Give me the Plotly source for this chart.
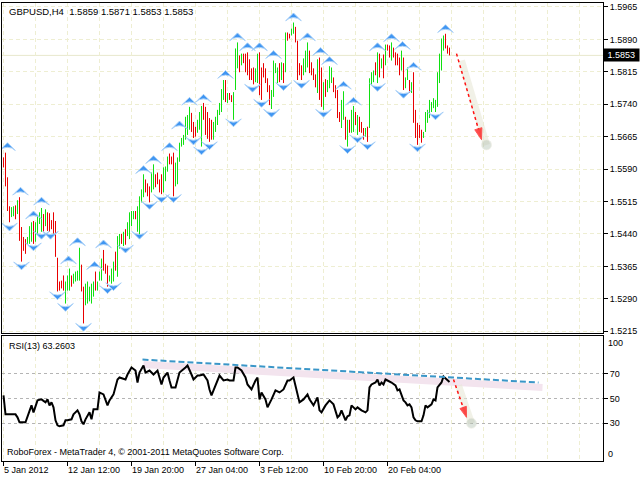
import plotly.graph_objects as go

# ---------------- data ----------------
bar_high = [
    1.5617, 1.5628, 1.5571, 1.5504, 1.5502, 1.5504, 1.5506, 1.5518, 1.5525, 1.5456,
    1.5433, 1.5428, 1.5433, 1.5458, 1.5467, 1.5470, 1.5467, 1.5481, 1.5490, 1.5500,
    1.5486, 1.5497, 1.5490, 1.5488, 1.5472, 1.5490, 1.5470, 1.5385, 1.5330, 1.5332,
    1.5344, 1.5330, 1.5344, 1.5360, 1.5344, 1.5348, 1.5353, 1.5355, 1.5408, 1.5369,
    1.5318, 1.5325, 1.5330, 1.5318, 1.5325, 1.5330, 1.5353, 1.5330, 1.5353, 1.5383,
    1.5403, 1.5371, 1.5367, 1.5344, 1.5360, 1.5376, 1.5399, 1.5435, 1.5440, 1.5440,
    1.5445, 1.5451, 1.5467, 1.5490, 1.5493, 1.5493, 1.5493, 1.5504, 1.5527, 1.5543,
    1.5578, 1.5566, 1.5557, 1.5550, 1.5582, 1.5601, 1.5578, 1.5582, 1.5566, 1.5578,
    1.5594, 1.5596, 1.5619, 1.5626, 1.5619, 1.5628, 1.5605, 1.5617, 1.5651, 1.5662,
    1.5669, 1.5711, 1.5715, 1.5734, 1.5720, 1.5699, 1.5688, 1.5704, 1.5722, 1.5736,
    1.5743, 1.5734, 1.5722, 1.5708, 1.5704, 1.5699, 1.5711, 1.5727, 1.5743, 1.5775,
    1.5796, 1.5796, 1.5766, 1.5766, 1.5761, 1.5768, 1.5869, 1.5883, 1.5853, 1.5857,
    1.5857, 1.5857, 1.5860, 1.5844, 1.5823, 1.5825, 1.5823, 1.5857, 1.5860, 1.5825,
    1.5835, 1.5823, 1.5800, 1.5784, 1.5773, 1.5841, 1.5835, 1.5825, 1.5835, 1.5837,
    1.5835, 1.5906, 1.5906, 1.5903, 1.5915, 1.5929, 1.5919, 1.5887, 1.5835, 1.5830,
    1.5846, 1.5864, 1.5883, 1.5864, 1.5837, 1.5823, 1.5809, 1.5844, 1.5848, 1.5825,
    1.5791, 1.5798, 1.5796, 1.5828, 1.5825, 1.5802, 1.5784, 1.5773, 1.5722, 1.5750,
    1.5770, 1.5711, 1.5704, 1.5704, 1.5727, 1.5736, 1.5722, 1.5715, 1.5711, 1.5699,
    1.5685, 1.5685, 1.5688, 1.5800, 1.5814, 1.5818, 1.5837, 1.5860, 1.5857, 1.5846,
    1.5855, 1.5878, 1.5878, 1.5876, 1.5883, 1.5871, 1.5860, 1.5857, 1.5848, 1.5864,
    1.5848, 1.5802, 1.5825, 1.5796, 1.5791, 1.5814, 1.5727, 1.5697, 1.5692, 1.5681,
    1.5676, 1.5722, 1.5727, 1.5750, 1.5745, 1.5754, 1.5750, 1.5814, 1.5857, 1.5892,
    1.5899, 1.5903, 1.5876, 1.5871,
]
bar_low = [
    1.5594, 1.5550, 1.5493, 1.5467, 1.5479, 1.5481, 1.5474, 1.5486, 1.5424, 1.5376,
    1.5401, 1.5394, 1.5417, 1.5417, 1.5422, 1.5417, 1.5422, 1.5440, 1.5463, 1.5445,
    1.5445, 1.5458, 1.5447, 1.5445, 1.5451, 1.5440, 1.5387, 1.5307, 1.5309, 1.5314,
    1.5309, 1.5279, 1.5309, 1.5309, 1.5318, 1.5325, 1.5330, 1.5332, 1.5332, 1.5307,
    1.5233, 1.5275, 1.5279, 1.5284, 1.5279, 1.5295, 1.5309, 1.5309, 1.5332, 1.5332,
    1.5355, 1.5348, 1.5318, 1.5330, 1.5325, 1.5330, 1.5355, 1.5341, 1.5406, 1.5417,
    1.5412, 1.5415, 1.5435, 1.5428, 1.5458, 1.5474, 1.5474, 1.5445, 1.5435, 1.5513,
    1.5525, 1.5536, 1.5527, 1.5513, 1.5536, 1.5543, 1.5548, 1.5555, 1.5536, 1.5532,
    1.5536, 1.5562, 1.5584, 1.5601, 1.5601, 1.5527, 1.5550, 1.5555, 1.5607, 1.5642,
    1.5646, 1.5658, 1.5669, 1.5681, 1.5676, 1.5662, 1.5665, 1.5674, 1.5681, 1.5642,
    1.5704, 1.5669, 1.5660, 1.5653, 1.5658, 1.5658, 1.5676, 1.5692, 1.5715, 1.5722,
    1.5750, 1.5745, 1.5743, 1.5750, 1.5745, 1.5704, 1.5773, 1.5823, 1.5814, 1.5830,
    1.5835, 1.5814, 1.5807, 1.5796, 1.5796, 1.5786, 1.5791, 1.5789, 1.5761, 1.5750,
    1.5802, 1.5789, 1.5768, 1.5738, 1.5729, 1.5757, 1.5812, 1.5789, 1.5791, 1.5796,
    1.5789, 1.5814, 1.5887, 1.5892, 1.5899, 1.5903, 1.5883, 1.5796, 1.5807, 1.5796,
    1.5807, 1.5814, 1.5825, 1.5812, 1.5807, 1.5796, 1.5779, 1.5766, 1.5750, 1.5734,
    1.5727, 1.5757, 1.5768, 1.5777, 1.5789, 1.5768, 1.5754, 1.5708, 1.5699, 1.5685,
    1.5704, 1.5658, 1.5642, 1.5674, 1.5674, 1.5676, 1.5692, 1.5669, 1.5676, 1.5674,
    1.5658, 1.5665, 1.5653, 1.5685, 1.5784, 1.5791, 1.5807, 1.5789, 1.5802, 1.5823,
    1.5800, 1.5830, 1.5864, 1.5848, 1.5841, 1.5848, 1.5830, 1.5830, 1.5807, 1.5818,
    1.5773, 1.5777, 1.5796, 1.5766, 1.5766, 1.5697, 1.5662, 1.5646, 1.5662, 1.5651,
    1.5662, 1.5676, 1.5697, 1.5708, 1.5722, 1.5731, 1.5722, 1.5734, 1.5789, 1.5818,
    1.5864, 1.5869, 1.5857, 1.5853,
]
# 1 = bullish (green) bar, 0 = bearish (red) bar
bar_up = [
    0, 0, 0, 0, 1, 1, 0, 1, 0, 0, 0, 0, 1, 1, 1, 0, 1, 1, 1, 1,
    0, 1, 0, 0, 0, 0, 0, 0, 0, 0, 0, 1, 1, 1, 0, 1, 1, 1, 1, 0,
    0, 1, 1, 1, 1, 1, 0, 1, 1, 1, 0, 0, 0, 1, 1, 1, 0, 1, 1, 0,
    1, 0, 1, 1, 1, 1, 0, 1, 1, 1, 1, 0, 0, 0, 1, 1, 0, 0, 0, 0,
    1, 1, 1, 0, 0, 0, 1, 1, 1, 1, 1, 1, 1, 1, 0, 0, 0, 1, 1, 1,
    0, 0, 0, 0, 0, 1, 1, 1, 1, 1, 1, 0, 1, 0, 0, 1, 1, 1, 0, 1,
    0, 0, 0, 0, 0, 0, 1, 1, 0, 0, 0, 0, 0, 0, 1, 1, 1, 1, 0, 1,
    0, 1, 0, 0, 1, 1, 0, 0, 0, 0, 1, 1, 1, 0, 0, 0, 0, 1, 0, 0,
    1, 0, 1, 1, 1, 0, 0, 0, 0, 1, 1, 0, 1, 0, 1, 1, 0, 1, 0, 0,
    0, 1, 0, 1, 1, 1, 0, 1, 0, 1, 0, 1, 0, 0, 1, 0, 0, 0, 0, 1,
    0, 1, 1, 0, 1, 0, 0, 0, 0, 0, 1, 1, 1, 1, 1, 1, 1, 1, 1, 1,
    1, 0, 0, 0,
]

# Fractal arrows (bar position, price)
frac_up_bar = [2, 8.5, 15, 19, 32.5, 37, 45.5, 50, 70, 75, 83, 88, 93, 100, 111,
               117, 122, 128, 135, 145, 152, 158.5, 163, 170, 175, 187, 194, 199.5, 205, 221]
frac_up_price = [1.5651, 1.5548, 1.5493, 1.5525, 1.5389, 1.5431, 1.5376, 1.5426, 1.5598, 1.5621,
                 1.5651, 1.5701, 1.5756, 1.5763, 1.5818, 1.5905, 1.5882, 1.5882, 1.5864, 1.5951,
                 1.5905, 1.5871, 1.5850, 1.5793, 1.5756, 1.5882, 1.5903, 1.5885, 1.5837, 1.5924]
frac_dn_bar = [3, 9, 15, 19, 23.5, 27, 31, 40, 52, 55, 61, 68, 73, 79, 85, 95,
               99, 103, 115, 124.5, 129, 134, 140, 149, 160, 172, 177, 182, 187, 200, 207, 216]
frac_dn_price = [1.5447, 1.5357, 1.5401, 1.5428, 1.5428, 1.5288, 1.5261, 1.5215, 1.5302, 1.5309,
                 1.5396, 1.5428, 1.5497, 1.5513, 1.5513, 1.5646, 1.5623, 1.5635, 1.5688, 1.5768,
                 1.5733, 1.5710, 1.5772, 1.5777, 1.5710, 1.5626, 1.5651, 1.5635, 1.5770, 1.5754,
                 1.5630, 1.5704]

# RSI(13) trace (bar position, value)
rsi_bar = [0, 1, 3, 6, 7, 8, 11, 12, 13, 14, 15, 16, 17, 19, 21, 22, 23, 24, 25, 26,
           27, 28, 30, 31, 32, 34, 35, 37, 38, 39, 40, 41, 42, 43, 44, 45, 47, 48, 50, 52,
           53, 55, 57, 58, 61, 62, 64, 66, 67, 68, 70, 71, 73, 75, 77, 78, 79, 80, 82, 83,
           84, 86, 87, 88, 91, 92, 94, 95, 97, 98, 100, 102, 103, 104, 105, 107, 108, 110, 112, 113,
           115, 116, 117, 119, 121, 122, 124, 126, 127, 128, 129, 131, 132, 134, 136, 138, 140, 142, 143, 145,
           147, 148, 150, 152, 153, 155, 157, 158, 159, 161, 163, 165, 167, 168, 169, 170, 171, 172, 173, 174,
           176, 177, 179, 181, 182, 183, 184, 186, 187, 188, 189, 190, 191, 192, 194, 196, 197, 198, 200, 201,
           202, 203, 204, 205, 206, 207, 209, 210, 211, 212, 214, 215, 216, 217, 219, 220, 221, 223]
rsi_value = [52.4, 37.2, 37.2, 37.2, 34.8, 30.8, 30.8, 34.8, 38.8, 44.4, 38.8, 44.4, 48.4, 49.2, 46.8, 49.2, 44.4, 46.8, 42.8, 32.4,
             28.4, 27.6, 28.4, 32.4, 32.4, 33.2, 37.2, 40.4, 37.2, 31.6, 29.2, 33.2, 36.4, 38.8, 33.2, 41.2, 41.2, 54.8, 53.2, 44.4,
             48.4, 53.2, 65.2, 66.8, 65.2, 69.2, 74.8, 72.4, 62.8, 70.8, 76.4, 70.8, 72.4, 69.2, 72.4, 67.6, 61.2, 66.8, 70.8, 64.4,
             58.8, 58.8, 64.4, 70.8, 74.8, 76.4, 69.2, 65.2, 68.4, 68.4, 69.2, 64.4, 57.2, 52.4, 56.4, 64.4, 68.4, 64.4, 65.2, 64.4,
             64.4, 74.8, 74.8, 72.4, 66.8, 61.2, 57.2, 64.4, 66.8, 49.2, 54.8, 49.2, 42.8, 49.2, 56.4, 54.8, 57.2, 64.4, 64.4, 66.8,
             53.2, 46.8, 49.2, 53.2, 49.2, 44.4, 50.8, 40.4, 38.8, 44.4, 48.4, 45.2, 34.8, 36.4, 40.4, 36.4, 32.4, 35.6, 36.4, 44.4,
             41.2, 42.8, 40.4, 38.8, 40.4, 58.8, 61.2, 62.8, 65.2, 60.4, 62.8, 61.2, 65.2, 64.4, 62.8, 60.4, 56.4, 57.2, 48.4, 46.8,
             44.4, 45.2, 42.8, 34.8, 32.4, 31.6, 31.6, 36.4, 44.4, 42.8, 45.2, 49.2, 48.4, 58.8, 62.8, 67.6, 66.0, 63.26]

price_ticks = [1.5965, 1.5890, 1.5815, 1.5740, 1.5665, 1.5590, 1.5515, 1.5440, 1.5365, 1.5290, 1.5215]
rsi_ticks = [30, 50, 70]
time_bar = [0, 32, 64, 96, 128, 160, 192]
time_labels = ["5 Jan 2012", "12 Jan 12:00", "19 Jan 20:00", "27 Jan 04:00",
               "3 Feb 12:00", "10 Feb 20:00", "20 Feb 04:00"]
last_price = 1.5853
header_text = "GBPUSD,H4\u00a0\u00a01.5859 1.5871 1.5853 1.5853"
rsi_text = "RSI(13) 63.2603"
footer_text = "RoboForex - MetaTrader 4, © 2001-2011 MetaQuotes Software Corp."

# Drawn analysis objects
fc_price_bar = [226.5, 239.0]
fc_price = [1.5857, 1.5658]
fc_price_shadow_bar = [229.0, 241.5]
fc_price_shadow = [1.5841, 1.5646]
fc_rsi_bar = [225.0, 231.5]
fc_rsi = [65.2, 34.8]
fc_rsi_shadow_bar = [227.5, 234.0]
fc_rsi_shadow = [60.4, 30.0]
trend_bar = [69.5, 267.5]
trend_rsi = [81.2, 62.8]
band_bar = [70.0, 269.5]
band_rsi = [77.2, 58.8]

# ---------------- figure ----------------
GREEN = "#10e010"
RED = "#e80000"
GRID = "#eeeed2"
FONT = "Liberation Sans, Arial, sans-serif"

fig = go.Figure()

xu, yu, xd, yd = [], [], [], []
for i, (h, l, u) in enumerate(zip(bar_high, bar_low, bar_up)):
    if u:
        xu += [i, i, None]
        yu += [l, h, None]
    else:
        xd += [i, i, None]
        yd += [l, h, None]

fig.add_trace(go.Scatter(x=xu, y=yu, mode="lines", line=dict(color=GREEN, width=1),
                         xaxis="x", yaxis="y", hoverinfo="skip"))
fig.add_trace(go.Scatter(x=xd, y=yd, mode="lines", line=dict(color=RED, width=1),
                         xaxis="x", yaxis="y", hoverinfo="skip"))

arrow_marker = dict(symbol="arrow-wide", size=11, color="#3f95f2",
                    line=dict(color="#a8d0f8", width=1))
fig.add_trace(go.Scatter(x=frac_up_bar, y=frac_up_price, mode="markers",
                         marker=dict(arrow_marker, angle=0), xaxis="x", yaxis="y"))
fig.add_trace(go.Scatter(x=frac_dn_bar, y=frac_dn_price, mode="markers",
                         marker=dict(arrow_marker, angle=180), xaxis="x", yaxis="y"))

# forecast arrow in price panel
fig.add_trace(go.Scatter(x=fc_price_shadow_bar, y=fc_price_shadow, mode="lines+markers",
                         line=dict(color="rgba(232,232,215,0.6)", width=7),
                         marker=dict(size=[0, 10], color="rgba(170,185,170,0.55)"),
                         xaxis="x", yaxis="y"))
fig.add_trace(go.Scatter(x=fc_price_bar, y=fc_price, mode="lines+markers",
                         line=dict(color="#ff1010", width=1.5, dash="dot"),
                         marker=dict(symbol=["circle", "arrow"], size=[0, 12], color="#ff0000",
                                     angleref="previous"),
                         xaxis="x", yaxis="y"))

# RSI panel
fig.add_trace(go.Scatter(x=band_bar, y=band_rsi, mode="lines",
                         line=dict(color="#f3e4ee", width=7), xaxis="x2", yaxis="y2"))
fig.add_trace(go.Scatter(x=rsi_bar, y=rsi_value, mode="lines",
                         line=dict(color="black", width=2), xaxis="x2", yaxis="y2"))
fig.add_trace(go.Scatter(x=trend_bar, y=trend_rsi, mode="lines",
                         line=dict(color="#3a96c8", width=2, dash="6px,3px"), xaxis="x2", yaxis="y2"))
fig.add_trace(go.Scatter(x=fc_rsi_shadow_bar, y=fc_rsi_shadow, mode="lines+markers",
                         line=dict(color="rgba(232,232,215,0.6)", width=7),
                         marker=dict(size=[0, 10], color="rgba(170,185,170,0.55)"),
                         xaxis="x2", yaxis="y2"))
fig.add_trace(go.Scatter(x=fc_rsi_bar, y=fc_rsi, mode="lines+markers",
                         line=dict(color="#ff1010", width=1.5, dash="dot"),
                         marker=dict(symbol=["circle", "arrow"], size=[0, 11], color="#ff0000",
                                     angleref="previous"),
                         xaxis="x2", yaxis="y2"))

W, H = 640, 480
xdom = [2 / W, 603 / W]
main_dom = [(H - 335) / H, (H - 2) / H]
rsi_dom = [(H - 463.5) / H, (H - 338) / H]
xrange_ = [-0.75, 299.75]
grid_x = list(range(0, 300, 16))

axis_common = dict(showline=True, mirror=True, linecolor="black", linewidth=1, zeroline=False)

fig.update_layout(
    width=W, height=H, margin=dict(l=0, r=0, t=0, b=0),
    paper_bgcolor="white", plot_bgcolor="white", showlegend=False,
    font=dict(family=FONT, size=9, color="black"),
    xaxis=dict(domain=xdom, range=xrange_, anchor="y", tickmode="array", tickvals=grid_x,
               showticklabels=False, ticks="", showgrid=True, gridcolor=GRID,
               griddash="4px,3px", gridwidth=1, **axis_common),
    yaxis=dict(domain=main_dom, range=[1.52104, 1.59742], anchor="x", side="right",
               tickmode="array", tickvals=price_ticks, tickformat=".4f",
               ticks="outside", ticklen=4, tickcolor="black",
               showgrid=True, gridcolor=GRID, griddash="4px,3px",
               tickfont=dict(size=9), **axis_common),
    xaxis2=dict(domain=xdom, range=xrange_, anchor="y2", tickmode="array", tickvals=time_bar,
                showticklabels=False, ticks="outside", ticklen=4, tickcolor="black",
                showgrid=True, gridcolor=GRID, griddash="4px,3px",
                minor=dict(tick0=0, dtick=16, showgrid=True, gridcolor=GRID,
                           griddash="4px,3px", ticks=""),
                **axis_common),
    yaxis2=dict(domain=rsi_dom, range=[0, 100], anchor="x2", side="right",
                tickmode="array", tickvals=rsi_ticks, ticks="outside", ticklen=4,
                tickcolor="black", showgrid=True, gridcolor="#b4b4b4", griddash="3px,3px",
                tickfont=dict(size=9), **axis_common),
)

fig.add_shape(type="line", xref="x", yref="y", x0=xrange_[0], x1=xrange_[1],
              y0=last_price, y1=last_price, line=dict(color="#e8e8cc", width=1), layer="below")

ann = []
ann.append(dict(text=header_text, x=7 / W, y=(H - 11) / H, xref="paper", yref="paper",
                xanchor="left", yanchor="middle", showarrow=False, font=dict(size=9.5)))
ann.append(dict(text=rsi_text, x=7 / W, y=(H - 348) / H, xref="paper", yref="paper",
                xanchor="left", yanchor="middle", showarrow=False, font=dict(size=9)))
ann.append(dict(text=footer_text, x=5 / W, y=(H - 455) / H, xref="paper", yref="paper",
                xanchor="left", yanchor="middle", showarrow=False, font=dict(size=9)))
for tb, tl in zip(time_bar, time_labels):
    ann.append(dict(text=tl, x=tb, xref="x2", y=(H - 473) / H, yref="paper",
                    xanchor="left", yanchor="middle", showarrow=False, xshift=-2,
                    font=dict(size=9)))
ann.append(dict(text="100", x=606 / W, y=100, xref="paper", yref="y2", xanchor="left",
                yanchor="top", showarrow=False, font=dict(size=9)))
ann.append(dict(text="0", x=606 / W, y=0, xref="paper", yref="y2", xanchor="left",
                yanchor="bottom", showarrow=False, font=dict(size=9)))
ann.append(dict(text="\u00a0" + f"{last_price:.4f}" + "\u00a0", x=603 / W, y=last_price,
                xref="paper", yref="y", xanchor="left", yanchor="middle", showarrow=False,
                bgcolor="black", font=dict(size=9, color="white"), borderpad=1))
fig.update_layout(annotations=ann)

fig.write_html("out.html", config={"displayModeBar": False},
               post_script="document.body.style.margin='0';")
